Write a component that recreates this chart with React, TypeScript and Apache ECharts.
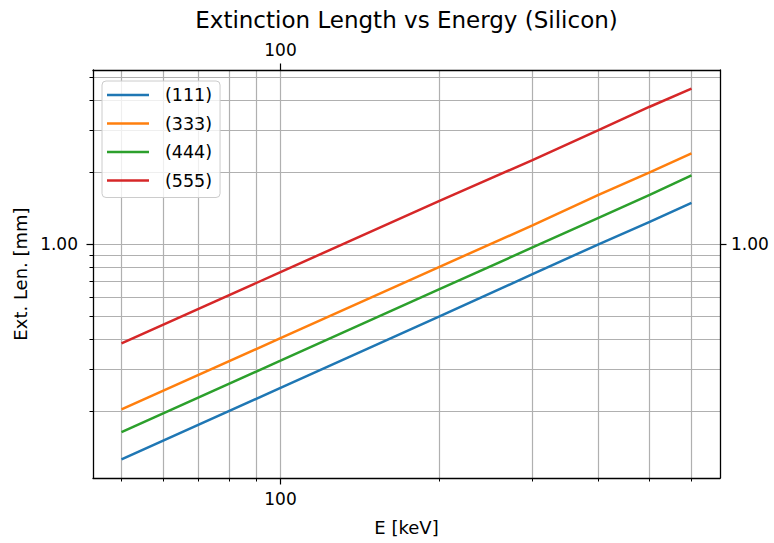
import React, { useEffect, useRef } from 'react';
import * as echarts from 'echarts';

// Photon energy (keV) and extinction length (mm) for Si reflections
const energies = [50, 100, 200, 300, 400, 500, 600];
const len111 = [0.126, 0.251, 0.5, 0.75, 1.0, 1.24, 1.49];
const len333 = [0.204, 0.405, 0.805, 1.2, 1.61, 2.0, 2.4];
const len444 = [0.164, 0.326, 0.65, 0.97, 1.29, 1.61, 1.94];
const len555 = [0.385, 0.765, 1.52, 2.25, 3.0, 3.76, 4.48];

const reflections = ['(111)', '(333)', '(444)', '(555)'];
const seriesValues = [len111, len333, len444, len555];
const colors = ['#1f77b4', '#ff7f0e', '#2ca02c', '#d62728'];

// Labelled major ticks
const xTickValues = [100];
const yTickValues = [1];

// Axis limits (5% padding in log space around the data)
const X_MIN = 44.16;
const X_MAX = 679.4;
const Y_MIN = 0.1054;
const Y_MAX = 5.355;

const FONT = 'DejaVu Sans';
const GRID_COLOR = '#b0b0b0';

const spine = { show: true, onZero: false, lineStyle: { color: '#000', width: 1.3 } };
const gridLine = { show: true, lineStyle: { color: GRID_COLOR, width: 1.2, type: 'solid' } };
const tickLabel = { fontFamily: FONT, fontSize: 17, color: '#000' };

export default function App() {
  const ref = useRef<HTMLDivElement>(null);

  useEffect(() => {
    if (!ref.current) return;
    const chart = echarts.init(ref.current, null, { renderer: 'svg' });

    const xFmt = (v: number) => String(Math.round(v));
    const yFmt = (v: number) => v.toFixed(2);

    const option: any = {
      animation: false,
      backgroundColor: '#fff',
      grid: { left: 93, right: 54, top: 70, bottom: 65, containLabel: false, outerBoundsMode: 'none' },
      graphic: [
        {
          type: 'text',
          x: 406.5,
          y: 20,
          style: {
            text: 'Extinction Length vs Energy (Silicon)',
            font: `23px "${FONT}"`,
            fill: '#000',
            align: 'center',
            verticalAlign: 'middle',
            textAlign: 'center',
            textVerticalAlign: 'middle',
          },
        },
      ],
      legend: {
        data: reflections,
        orient: 'vertical',
        left: 102,
        top: 81,
        itemWidth: 42,
        itemHeight: 20,
        itemGap: 8.5,
        // plain line swatch, no marker
        icon: 'path://M0,0H42V2.5H0Z',
        symbolKeepAspect: true,
        padding: [4, 8, 7, 5],
        backgroundColor: 'rgba(255,255,255,0.8)',
        borderColor: '#cccccc',
        borderWidth: 1,
        borderRadius: 4,
        selectedMode: false,
        textStyle: { fontFamily: FONT, fontSize: 17.5, color: '#000', lineHeight: 20, padding: [0, 0, 0, 11] },
        z: 10,
      },
      xAxis: [
        {
          type: 'log',
          logBase: 10,
          position: 'bottom',
          min: X_MIN,
          max: X_MAX,
          name: 'E [keV]',
          nameLocation: 'middle',
          nameGap: 40,
          nameTextStyle: { fontFamily: FONT, fontSize: 18, color: '#000' },
          axisLine: spine,
          axisTick: { show: true, inside: false, length: 6.5, customValues: xTickValues, lineStyle: { color: '#000', width: 1.2 } },
          minorTick: { show: true, splitNumber: 9, length: 3.5, lineStyle: { color: '#000', width: 1 } },
          axisLabel: { ...tickLabel, margin: 12, customValues: xTickValues, formatter: xFmt, showMinLabel: false, showMaxLabel: false },
          splitLine: gridLine,
          minorSplitLine: gridLine,
          z: 1,
        },
        {
          type: 'log',
          logBase: 10,
          position: 'top',
          min: X_MIN,
          max: X_MAX,
          axisLine: spine,
          axisTick: { show: true, inside: false, length: 6.5, customValues: xTickValues, lineStyle: { color: '#000', width: 1.2 } },
          minorTick: { show: false, splitNumber: 9 },
          axisLabel: { ...tickLabel, margin: 12, customValues: xTickValues, formatter: xFmt, showMinLabel: false, showMaxLabel: false },
          splitLine: { show: false },
          minorSplitLine: { show: false },
          z: 1,
        },
      ],
      yAxis: [
        {
          type: 'log',
          logBase: 10,
          position: 'left',
          min: Y_MIN,
          max: Y_MAX,
          name: 'Ext. Len. [mm]',
          nameLocation: 'middle',
          nameGap: 62,
          nameTextStyle: { fontFamily: FONT, fontSize: 18, color: '#000' },
          axisLine: spine,
          axisTick: { show: true, inside: false, length: 6.5, customValues: yTickValues, lineStyle: { color: '#000', width: 1.2 } },
          minorTick: { show: true, splitNumber: 9, length: 3.5, lineStyle: { color: '#000', width: 1 } },
          axisLabel: { ...tickLabel, margin: 15, customValues: yTickValues, formatter: yFmt, showMinLabel: false, showMaxLabel: false },
          splitLine: gridLine,
          minorSplitLine: gridLine,
          z: 1,
        },
        {
          type: 'log',
          logBase: 10,
          position: 'right',
          min: Y_MIN,
          max: Y_MAX,
          axisLine: spine,
          axisTick: { show: true, inside: false, length: 6.5, customValues: yTickValues, lineStyle: { color: '#000', width: 1.2 } },
          minorTick: { show: false, splitNumber: 9 },
          axisLabel: { ...tickLabel, margin: 11, customValues: yTickValues, formatter: yFmt, showMinLabel: false, showMaxLabel: false },
          splitLine: { show: false },
          minorSplitLine: { show: false },
          z: 1,
        },
      ],
      series: reflections.map((name, i) => ({
        name,
        type: 'line',
        xAxisIndex: 0,
        yAxisIndex: 0,
        data: energies.map((e, j) => [e, seriesValues[i][j]]),
        symbol: 'none',
        showSymbol: false,
        silent: true,
        color: colors[i],
        lineStyle: { color: colors[i], width: 2.5 },
        z: 3,
      })),
    };

    chart.setOption(option);
    return () => chart.dispose();
  }, []);

  return (
    <div
      ref={ref}
      style={{ position: 'absolute', left: 0, top: 0, width: 774, height: 543, background: '#fff' }}
    />
  );
}
